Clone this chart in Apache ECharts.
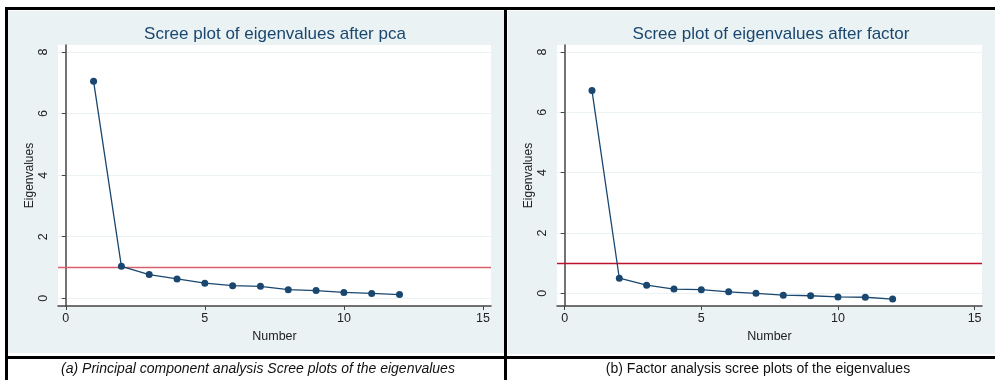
<!DOCTYPE html>
<html>
<head>
<meta charset="utf-8">
<script src="https://cdn.jsdelivr.net/npm/echarts@6/dist/echarts.min.js"></script>
<style>
  html, body { margin: 0; padding: 0; background: #fff; }
  #chart { width: 995px; height: 380px; }
</style>
</head>
<body>
<div id="chart"></div>
<script>
// data
var numbers = [1, 2, 3, 4, 5, 6, 7, 8, 9, 10, 11, 12];
var pcaEigen = [7.05, 1.04, 0.77, 0.63, 0.49, 0.41, 0.39, 0.28, 0.25, 0.19, 0.16, 0.12];
var factorEigen = [6.72, 0.50, 0.27, 0.14, 0.12, 0.05, 0.00, -0.06, -0.08, -0.12, -0.13, -0.19];
var xTicks = [0, 5, 10, 15];
var yTicks = [0, 2, 4, 6, 8];
var cutoff = 1;

var navy = '#1a476f';
var panelBg = '#eaf2f3';

function pairs(vals) {
    return numbers.map(function (n, i) { return [n, vals[i]]; });
}

function xAxisFor(idx, min, max) {
    return {
        type: 'value', gridIndex: idx, min: min, max: max,
        name: 'Number', nameLocation: 'middle', nameGap: 21,
        nameTextStyle: { color: '#222', fontSize: 12.5, fontFamily: 'Liberation Sans' },
        axisLine: { onZero: false, lineStyle: { color: '#444', width: 1.5 } },
        axisTick: { customValues: xTicks, length: 4, lineStyle: { color: '#444' } },
        axisLabel: { customValues: xTicks, color: '#222', fontSize: 12.5, margin: 6, fontFamily: 'Liberation Sans' },
        splitLine: { show: false }
    };
}

function yAxisFor(idx, min, max) {
    return {
        type: 'value', gridIndex: idx, min: min, max: max,
        name: 'Eigenvalues', nameLocation: 'middle', nameGap: 21, nameRotate: 90,
        nameTextStyle: { color: '#222', fontSize: 12, fontFamily: 'Liberation Sans' },
        axisLine: { show: true, lineStyle: { color: '#444', width: 1.5 } },
        axisTick: { show: true, customValues: yTicks, length: 4, lineStyle: { color: '#444' } },
        axisLabel: { customValues: yTicks, rotate: 90, color: '#222', fontSize: 12.5, margin: 8, fontFamily: 'Liberation Sans' },
        splitLine: { show: true, lineStyle: { color: panelBg, width: 1.2 } }
    };
}

function screeSeries(idx, vals, redColor) {
    return {
        type: 'line', xAxisIndex: idx, yAxisIndex: idx,
        data: pairs(vals),
        symbol: 'circle', symbolSize: 7,
        lineStyle: { color: navy, width: 1.3 },
        itemStyle: { color: navy },
        z: 5,
        markLine: {
            silent: true, symbol: 'none', label: { show: false },
            lineStyle: { color: redColor, width: 1.3, type: 'solid' },
            data: [{ yAxis: cutoff }],
            z: 3
        }
    };
}

var chart = echarts.init(document.getElementById('chart'));

var option = {
    animation: false,
    backgroundColor: '#fff',
    grid: [
        { left: 58, top: 45, width: 433, height: 261, show: true, backgroundColor: '#fff', borderWidth: 0 },
        { left: 557, top: 45, width: 425, height: 261, show: true, backgroundColor: '#fff', borderWidth: 0 }
    ],
    xAxis: [xAxisFor(0, -0.28, 15.29), xAxisFor(1, -0.28, 15.27)],
    yAxis: [yAxisFor(0, -0.25, 8.23), yAxisFor(1, -0.42, 8.23)],
    series: [
        screeSeries(0, pcaEigen, '#d8606d'),
        screeSeries(1, factorEigen, '#c0102c')
    ],
    graphic: [
        // panel backgrounds
        { type: 'rect', z: -10, shape: { x: 8, y: 11, width: 496, height: 342 }, style: { fill: panelBg } },
        { type: 'rect', z: -10, shape: { x: 508, y: 11, width: 487, height: 343 }, style: { fill: panelBg } },
        // frame lines
        { type: 'rect', z: 50, shape: { x: 5, y: 7, width: 990, height: 3 }, style: { fill: '#000' } },
        { type: 'rect', z: 50, shape: { x: 5, y: 7, width: 3, height: 373 }, style: { fill: '#000' } },
        { type: 'rect', z: 50, shape: { x: 504, y: 7, width: 3, height: 373 }, style: { fill: '#000' } },
        { type: 'rect', z: 50, shape: { x: 5, y: 356, width: 990, height: 3 }, style: { fill: '#000' } },
        // titles
        { type: 'text', z: 60, x: 275, y: 34, style: { text: 'Scree plot of eigenvalues after pca', fill: navy, font: '17px "Liberation Sans"', align: 'center', verticalAlign: 'middle' } },
        { type: 'text', z: 60, x: 771, y: 34, style: { text: 'Scree plot of eigenvalues after factor', fill: navy, font: '17px "Liberation Sans"', align: 'center', verticalAlign: 'middle' } },
        // captions
        { type: 'text', z: 60, x: 258, y: 369, style: { text: '(a) Principal component analysis Scree plots of the eigenvalues', fill: '#111', font: 'italic 14px "Liberation Sans"', align: 'center', verticalAlign: 'middle' } },
        { type: 'text', z: 60, x: 758, y: 369, style: { text: '(b) Factor analysis scree plots of the eigenvalues', fill: '#111', font: '14px "Liberation Sans"', align: 'center', verticalAlign: 'middle' } }
    ]
};

chart.setOption(option);
</script>
</body>
</html>
